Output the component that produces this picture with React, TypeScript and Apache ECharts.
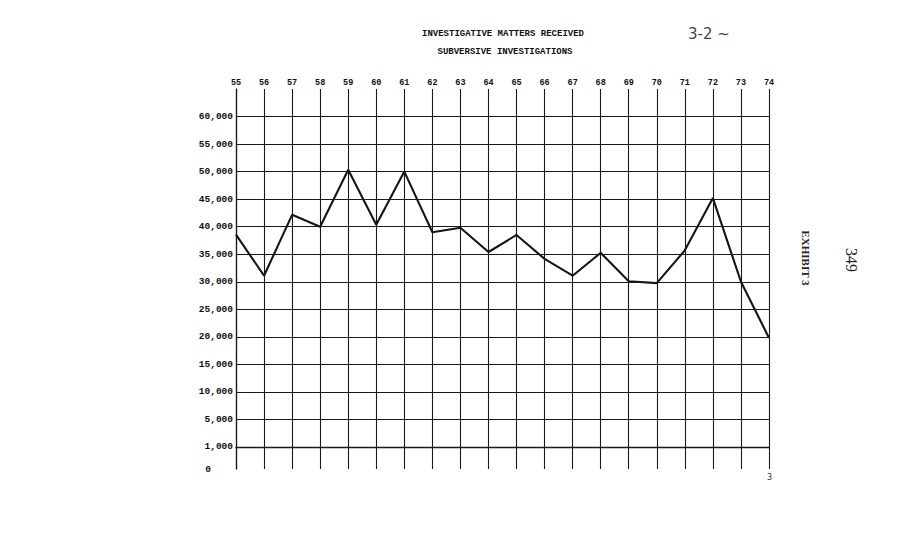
import React, { useEffect, useRef } from "react";
import * as echarts from "echarts";

const years = ["55","56","57","58","59","60","61","62","63","64","65","66","67","68","69","70","71","72","73","74"];
const matters = [38550, 31100, 42150, 40000, 50350, 40350, 50000, 39000, 39800, 35400, 38500, 34150, 31100, 35250, 30100, 29750, 35700, 45200, 30000, 19800];

// axis positions of the printed tick labels (the paper's "1,000" row sits on the zero line)
const yTickValues = [60000, 55000, 50000, 45000, 40000, 35000, 30000, 25000, 20000, 15000, 10000, 5000, 0, -4000];
const yTickLabels = ["60,000","55,000","50,000","45,000","40,000","35,000","30,000","25,000","20,000","15,000","10,000","5,000","1,000","0"];
const hGridValues = [60000, 55000, 50000, 45000, 40000, 35000, 30000, 25000, 20000, 15000, 10000, 5000, 0];

const titleLine1 = "INVESTIGATIVE MATTERS RECEIVED";
const titleLine2 = "SUBVERSIVE INVESTIGATIONS";

export default function App() {
  const ref = useRef<HTMLDivElement>(null);
  useEffect(() => {
    if (!ref.current) return;
    const chart = echarts.init(ref.current, null, { renderer: "svg" });
    const mono = "'Liberation Mono', 'DejaVu Sans Mono', monospace";
    chart.setOption({
      animation: false,
      backgroundColor: "#ffffff",
      title: [
        {
          text: titleLine1,
          left: 490, top: 16, textAlign: "center",
          textStyle: { fontFamily: mono, fontSize: 9, fontWeight: "bold", color: "#111" },
        },
        {
          text: titleLine2,
          left: 492, top: 34, textAlign: "center",
          textStyle: { fontFamily: mono, fontSize: 9, fontWeight: "bold", color: "#111" },
        },
      ],
      grid: { left: 228, right: 124, top: 81, bottom: 75, containLabel: false },
      xAxis: {
        type: "category",
        data: years,
        position: "top",
        boundaryGap: false,
        axisLine: { show: true, lineStyle: { color: "#1a1a1a", width: 1.3 } },
        axisTick: { show: false },
        axisLabel: { interval: 0, margin: 2, fontFamily: mono, fontSize: 8.5, fontWeight: "bold", color: "#111" },
        splitLine: { show: true, interval: 0, lineStyle: { color: "#1a1a1a", width: 1.1 } },
      },
      yAxis: {
        type: "value",
        min: -4000,
        max: 65000,
        interval: 1000,
        axisLine: { show: true, lineStyle: { color: "#1a1a1a", width: 1.3 } },
        axisTick: { show: false },
        splitLine: { show: false },
        axisLabel: {
          margin: 3,
          showMinLabel: true,
          showMaxLabel: false,
          fontFamily: mono,
          fontSize: 9.5,
          fontWeight: "bold",
          color: "#111",
          formatter: (v: number) => {
            const i = yTickValues.indexOf(v);
            if (i < 0) return "";
            if (yTickLabels[i] === "0") return "{z|0}";
            return yTickLabels[i];
          },
          rich: {
            z: { fontFamily: mono, fontSize: 9.5, fontWeight: "bold", color: "#111", padding: [0, 22, 0, 0] },
          },
        },
      },
      series: [
        {
          type: "line",
          data: matters,
          showSymbol: false,
          symbol: "none",
          lineStyle: { color: "#151515", width: 2.1 },
          markLine: {
            silent: true,
            symbol: ["none", "none"],
            label: { show: false },
            lineStyle: { color: "#1a1a1a", width: 1.1, type: "solid" },
            data: hGridValues.map((v) => ({ yAxis: v })),
          },
        },
      ],
      graphic: [
        {
          type: "text", x: 680, y: 18,
          style: { text: "3-2 ~", font: "15px 'DejaVu Sans'", fill: "#444" },
        },
        {
          type: "text", x: 798, y: 250, rotation: -Math.PI / 2,
          style: { text: "EXHIBIT 3", font: "bold 11px 'Liberation Serif'", fill: "#222", align: "center", verticalAlign: "middle" },
        },
        {
          type: "text", x: 843, y: 252, rotation: -Math.PI / 2,
          style: { text: "349", font: "16px 'Liberation Serif'", fill: "#222", align: "center", verticalAlign: "middle" },
        },
        {
          type: "text", x: 759, y: 465,
          style: { text: "3", font: "8px 'DejaVu Sans'", fill: "#333" },
        },
      ],
    });
    return () => chart.dispose();
  }, []);
  return <div ref={ref} style={{ width: 885, height: 536 }} />;
}
